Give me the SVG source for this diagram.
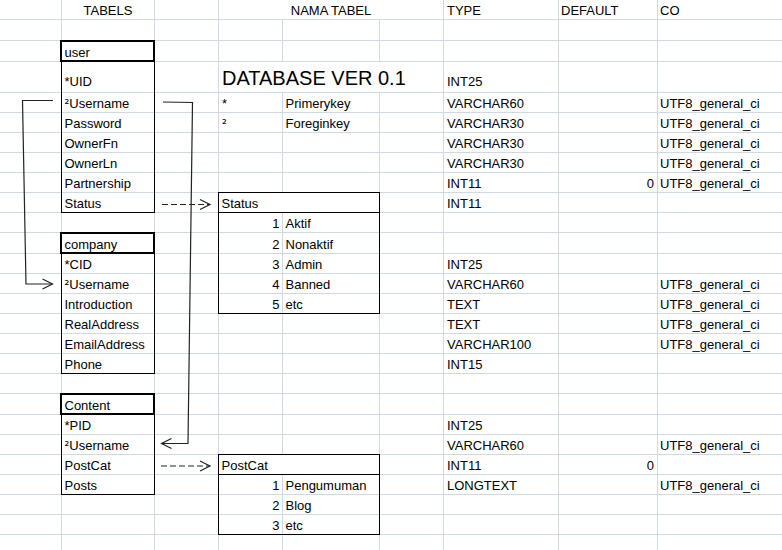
<svg xmlns="http://www.w3.org/2000/svg" width="782" height="550" viewBox="0 0 782 550">
<style>
.g{stroke:#D0D7E5;stroke-width:1;fill:none}
text{font-family:"Liberation Sans",Arial,sans-serif;font-size:13px;fill:#000}
.sp{font-family:"DejaVu Sans",sans-serif;font-size:12px}
.big{font-size:20px}
.mid{text-anchor:middle}
.end{text-anchor:end}
.hd{fill:#fff;stroke:#000;stroke-width:2}
.bd{fill:none;stroke:#000;stroke-width:1}
.cn{fill:none;stroke:#222;stroke-width:1.2}
.ds{fill:none;stroke:#222;stroke-width:1.2;stroke-dasharray:6 3}
</style>
<defs>
<marker id="ah" markerUnits="userSpaceOnUse" markerWidth="12" markerHeight="14" refX="10" refY="6" orient="auto" overflow="visible">
<path d="M0,1 L10,6 L0,11" fill="none" stroke="#222" stroke-width="1.2"/>
</marker>
</defs>
<rect width="782" height="550" fill="#fff"/>
<g id="grid" class="g">
<path d="M0,19.5H782M0,40.5H782M0,61.5H782M0,92.5H782M0,112.5H782M0,132.5H782M0,152.5H782M0,172.5H782M0,192.5H782M0,212.5H782M0,232.5H782M0,253.5H782M0,273.5H782M0,293.5H782M0,313.5H782M0,333.5H782M0,353.5H782M0,373.5H782M0,393.5H782M0,414.5H782M0,434.5H782M0,454.5H782M0,474.5H782M0,494.5H782M0,514.5H782M0,534.5H782"/>
<path d="M61.5,0V550M154.5,0V550M218.5,0V550M443.5,0V550M558.5,0V550M657.5,0V550"/>
<path d="M282.5,19.5V61.5M282.5,92.5V192.5M282.5,212.5V454.5M282.5,474.5V550"/>
<path d="M379.5,19.5V61.5M379.5,92.5V550"/>
</g>
<g id="headers">
<text x="108" y="15" class="mid">TABELS</text>
<text x="331" y="15" class="mid">NAMA TABEL</text>
<text x="447" y="15">TYPE</text>
<text x="561" y="15">DEFAULT</text>
<text x="660" y="15">CO</text>
</g>
<g id="legend">
<text x="222" y="85" class="big">DATABASE VER 0.1</text>
<text x="222" y="108">*</text>
<text x="285.5" y="108">Primerykey</text>
<text x="222" y="128" class="sp">²</text>
<text x="285.5" y="128">Foreginkey</text>
</g>
<g id="user">
<rect x="61.5" y="61.5" width="93" height="151" class="bd"/>
<rect x="61" y="41" width="93" height="20" class="hd"/>
<text x="64.5" y="57">user</text>
<text x="64.5" y="86">*UID</text>
<text x="64.5" y="108"><tspan class="sp">²</tspan>Username</text>
<text x="64.5" y="128">Password</text>
<text x="64.5" y="148">OwnerFn</text>
<text x="64.5" y="168">OwnerLn</text>
<text x="64.5" y="188">Partnership</text>
<text x="64.5" y="208">Status</text>
</g>
<g id="company">
<rect x="61.5" y="253.5" width="93" height="120" class="bd"/>
<rect x="61" y="233" width="93" height="20" class="hd"/>
<text x="64.5" y="249">company</text>
<text x="64.5" y="269">*CID</text>
<text x="64.5" y="289"><tspan class="sp">²</tspan>Username</text>
<text x="64.5" y="309">Introduction</text>
<text x="64.5" y="329">RealAddress</text>
<text x="64.5" y="349">EmailAddress</text>
<text x="64.5" y="369">Phone</text>
</g>
<g id="content">
<rect x="61.5" y="414.5" width="93" height="80" class="bd"/>
<rect x="61" y="394" width="93" height="20" class="hd"/>
<text x="64.5" y="410">Content</text>
<text x="64.5" y="430">*PID</text>
<text x="64.5" y="450"><tspan class="sp">²</tspan>Username</text>
<text x="64.5" y="470">PostCat</text>
<text x="64.5" y="490">Posts</text>
</g>
<g id="status">
<rect x="218.5" y="192.5" width="161" height="121" class="bd"/>
<path d="M218.5,212.5H379.5" class="bd"/>
<text x="221.5" y="208">Status</text>
<text x="279.5" y="228" class="end">1</text><text x="285.5" y="228">Aktif</text>
<text x="279.5" y="249" class="end">2</text><text x="285.5" y="249">Nonaktif</text>
<text x="279.5" y="269" class="end">3</text><text x="285.5" y="269">Admin</text>
<text x="279.5" y="289" class="end">4</text><text x="285.5" y="289">Banned</text>
<text x="279.5" y="309" class="end">5</text><text x="285.5" y="309">etc</text>
</g>
<g id="postcat">
<rect x="218.5" y="454.5" width="161" height="80" class="bd"/>
<path d="M218.5,474.5H379.5" class="bd"/>
<text x="221.5" y="470">PostCat</text>
<text x="279.5" y="490" class="end">1</text><text x="285.5" y="490">Pengumuman</text>
<text x="279.5" y="510" class="end">2</text><text x="285.5" y="510">Blog</text>
<text x="279.5" y="530" class="end">3</text><text x="285.5" y="530">etc</text>
</g>
<g id="types">
<text x="447" y="86">INT25</text>
<text x="447" y="108">VARCHAR60</text>
<text x="447" y="128">VARCHAR30</text>
<text x="447" y="148">VARCHAR30</text>
<text x="447" y="168">VARCHAR30</text>
<text x="447" y="188">INT11</text>
<text x="447" y="208">INT11</text>
<text x="447" y="269">INT25</text>
<text x="447" y="289">VARCHAR60</text>
<text x="447" y="309">TEXT</text>
<text x="447" y="329">TEXT</text>
<text x="447" y="349">VARCHAR100</text>
<text x="447" y="369">INT15</text>
<text x="447" y="430">INT25</text>
<text x="447" y="450">VARCHAR60</text>
<text x="447" y="470">INT11</text>
<text x="447" y="490">LONGTEXT</text>
</g>
<g id="defaults">
<text x="654" y="188" class="end">0</text>
<text x="654" y="470" class="end">0</text>
</g>
<g id="collation">
<text x="660" y="108">UTF8_general_ci</text>
<text x="660" y="128">UTF8_general_ci</text>
<text x="660" y="148">UTF8_general_ci</text>
<text x="660" y="168">UTF8_general_ci</text>
<text x="660" y="188">UTF8_general_ci</text>
<text x="660" y="289">UTF8_general_ci</text>
<text x="660" y="309">UTF8_general_ci</text>
<text x="660" y="329">UTF8_general_ci</text>
<text x="660" y="349">UTF8_general_ci</text>
<text x="660" y="450">UTF8_general_ci</text>
<text x="660" y="490">UTF8_general_ci</text>
</g>
<g id="connectors">
<path d="M53,100.5 L22.5,100.5 L26,284 L52.5,284" class="cn" marker-end="url(#ah)"/>
<path d="M163,102 L192.5,102.5 L188,443.5 L161.5,443.5" class="cn" marker-end="url(#ah)"/>
<path d="M162,204.5 L210,204.5" class="ds" marker-end="url(#ah)"/>
<path d="M161,466 L210,466" class="ds" marker-end="url(#ah)"/>
</g>
</svg>
